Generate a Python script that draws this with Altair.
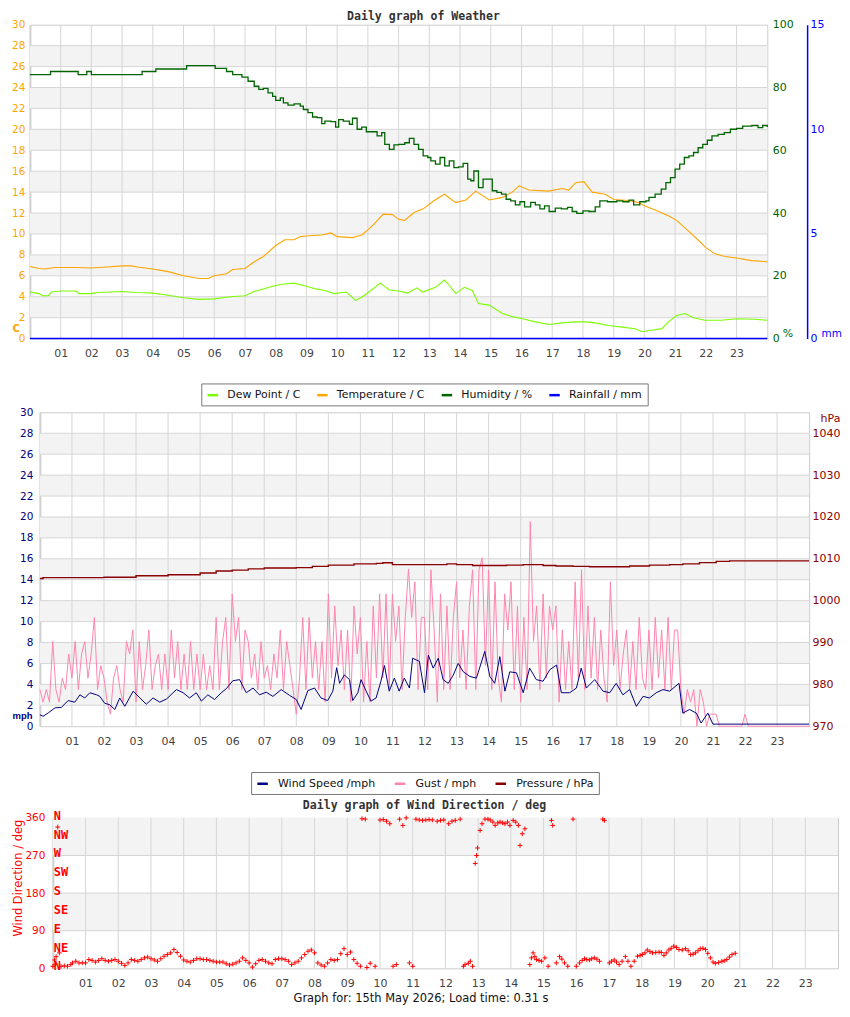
import numpy as np
import pandas as pd
import altair as alt

hours = list(range(1, 24))

# ---- Daily graph of Weather ----
temp_h = [0, 0.3, 0.5, 0.8, 1.0, 1.5, 2.0, 2.5, 3.0, 3.3, 3.5, 4.0, 4.5, 5.0, 5.5, 5.8, 6.0, 6.4, 6.6, 7.0,
          7.3, 7.6, 8.0, 8.3, 8.6, 8.8, 9.0, 9.5, 9.8, 10.0, 10.5, 10.8, 11.0, 11.2, 11.5, 11.8, 12.0, 12.2,
          12.5, 12.8, 13.16, 13.49, 13.86, 14.19, 14.51, 14.95, 15.38, 15.7, 15.92, 16.24, 16.89, 17.32,
          17.54, 17.76, 18.03, 18.3, 18.73, 19.0, 19.49, 19.81, 20.0, 20.35, 20.78, 21.05, 21.43, 21.76,
          22.0, 22.3, 22.62, 23.0, 23.49, 24.0]
temp_c = [6.9, 6.7, 6.65, 6.8, 6.8, 6.8, 6.75, 6.85, 6.95, 6.95, 6.85, 6.65, 6.4, 6.0, 5.75, 5.75, 6.0, 6.2,
          6.6, 6.7, 7.35, 7.85, 8.9, 9.45, 9.45, 9.75, 9.8, 9.9, 10.1, 9.75, 9.65, 9.9, 10.4, 10.95, 11.9,
          11.85, 11.4, 11.3, 12.05, 12.4, 13.2, 13.8, 13.0, 13.25, 14.1, 13.25, 13.5, 14.0, 14.6, 14.2, 14.1,
          14.35, 14.2, 14.9, 15.0, 14.0, 13.8, 13.3, 13.2, 13.0, 12.7, 12.3, 11.75, 11.3, 10.3, 9.4, 8.7, 8.1,
          7.85, 7.7, 7.45, 7.35]
dew_h = [0, 0.3, 0.4, 0.6, 0.7, 1.0, 1.5, 1.6, 2.0, 2.2, 3.0, 3.5, 4.0, 4.5, 5.0, 5.5, 6.0, 6.5, 7.0, 7.3,
         7.6, 7.9, 8.2, 8.6, 9.0, 9.3, 9.6, 9.9, 10.3, 10.6, 10.8, 11.1, 11.4, 11.7, 12.0, 12.3, 12.6, 12.78,
         13.2, 13.49, 13.65, 13.86, 14.14, 14.4, 14.6, 14.95, 15.38, 15.7, 16.03, 16.46, 16.89, 17.32, 17.76,
         18.08, 18.4, 18.84, 19.27, 19.7, 19.92, 20.24, 20.57, 20.78, 21.05, 21.32, 21.6, 21.97, 22.51, 23.0,
         23.59, 24.0]
dew_c = [4.45, 4.3, 4.1, 4.1, 4.45, 4.55, 4.55, 4.3, 4.3, 4.4, 4.5, 4.4, 4.35, 4.15, 3.9, 3.75, 3.8, 4.0,
         4.1, 4.5, 4.75, 5.0, 5.2, 5.3, 5.0, 4.75, 4.6, 4.3, 4.45, 3.65, 3.95, 4.6, 5.3, 4.65, 4.55, 4.35,
         4.85, 4.45, 4.9, 5.6, 5.1, 4.3, 4.9, 4.6, 3.35, 3.2, 2.4, 2.1, 1.9, 1.6, 1.35, 1.5, 1.6, 1.6, 1.5,
         1.25, 1.1, 0.95, 0.65, 0.8, 0.95, 1.6, 2.2, 2.4, 2.0, 1.75, 1.75, 1.9, 1.85, 1.75]
hum_h = [0, 0.67, 1.57, 1.85, 2.0, 3.65, 4.1, 5.1, 6.03, 6.4, 6.6, 6.9, 7.1, 7.3, 7.45, 7.6, 7.75, 7.9, 8.0,
         8.15, 8.25, 8.4, 8.6, 8.8, 8.9, 9.05, 9.2, 9.35, 9.5, 9.6, 9.8, 9.95, 10.05, 10.2, 10.4, 10.5, 10.65,
         10.8, 10.95, 11.1, 11.3, 11.45, 11.55, 11.7, 11.85, 12.0, 12.2, 12.35, 12.5, 12.65, 12.8, 12.95,
         13.05, 13.2, 13.35, 13.5, 13.65, 13.8, 13.95, 14.1, 14.25, 14.35, 14.45, 14.6, 14.75, 14.9, 15.05,
         15.2, 15.35, 15.5, 15.65, 15.8, 15.95, 16.1, 16.3, 16.45, 16.6, 16.75, 16.9, 17.1, 17.3, 17.5,
         17.65, 17.8, 18.0, 18.2, 18.4, 18.55, 18.8, 19.1, 19.3, 19.5, 19.65, 19.85, 20.05, 20.15, 20.35,
         20.55, 20.7, 20.85, 21.0, 21.15, 21.3, 21.45, 21.6, 21.75, 21.9, 22.05, 22.2, 22.4, 22.6, 22.8,
         23.0, 23.2, 23.5, 23.7, 23.85, 24.0]
hum_pct = [84.1, 85.1, 84.1, 85.1, 84.1, 85.1, 85.9, 87.0, 86.1, 85.1, 84.1, 83.3, 82.0, 80.4, 79.4, 79.7,
           78.3, 77.2, 75.9, 76.7, 75.1, 74.4, 74.8, 74.1, 73.0, 72.0, 70.6, 70.4, 68.5, 69.3, 69.1, 67.4,
           69.8, 69.3, 68.3, 70.2, 66.7, 67.4, 65.9, 65.9, 64.6, 65.6, 61.9, 60.3, 61.7, 61.9, 62.4, 63.8,
           61.9, 60.3, 58.2, 57.7, 56.6, 55.6, 57.7, 55.0, 56.6, 54.5, 54.7, 55.8, 50.8, 50.3, 53.4, 48.1,
           50.8, 50.8, 47.1, 46.6, 46.0, 44.4, 43.9, 42.6, 43.6, 42.0, 43.4, 42.6, 41.3, 42.3, 40.5, 41.6,
           41.3, 41.8, 40.5, 39.9, 40.7, 40.5, 42.0, 43.9, 43.6, 43.9, 43.6, 44.1, 42.6, 43.6, 43.9, 45.0,
           46.0, 47.6, 49.7, 51.3, 54.0, 55.6, 57.7, 58.2, 59.3, 60.8, 61.9, 63.2, 64.6, 65.1, 65.6, 66.7,
           67.0, 67.7, 67.9, 67.2, 67.9, 67.4]
rain_h = [0, 24]
rain_mm = [0.0, 0.0]

# ---- wind speed / gust / pressure ----
wind_h = [0, 0.1, 0.26, 0.47, 0.67, 0.88, 1.09, 1.25, 1.4, 1.56, 1.77, 1.87, 2.02, 2.18, 2.34, 2.49, 2.65,
          2.91, 3.12, 3.32, 3.53, 3.74, 3.95, 4.26, 4.47, 4.67, 4.88, 5.04, 5.24, 5.45, 5.66, 5.82, 6.02, 6.23,
          6.44, 6.65, 6.85, 7.06, 7.27, 7.53, 7.79, 8.0, 8.15, 8.36, 8.57, 8.77, 8.98, 9.14, 9.26, 9.35, 9.5,
          9.66, 9.76, 9.92, 10.02, 10.18, 10.33, 10.49, 10.64, 10.75, 10.9, 11.06, 11.21, 11.37, 11.53, 11.63,
          11.84, 12.0, 12.12, 12.27, 12.43, 12.58, 12.74, 12.9, 13.05, 13.21, 13.42, 13.62, 13.88, 14.04,
          14.19, 14.35, 14.51, 14.66, 14.87, 15.08, 15.28, 15.49, 15.7, 15.91, 16.12, 16.27, 16.53, 16.74,
          16.89, 17.05, 17.31, 17.57, 17.78, 17.98, 18.19, 18.4, 18.61, 18.82, 19.02, 19.23, 19.44, 19.65,
          19.94, 20.06, 20.27, 20.48, 20.63, 20.84, 21.0, 24.0]
wind_mph = [1.1, 0.95, 1.27, 1.75, 1.8, 2.45, 2.3, 3.0, 2.7, 3.2, 3.0, 2.85, 2.2, 2.05, 1.6, 2.7, 1.9, 3.35,
            2.7, 2.1, 2.7, 2.3, 2.6, 3.5, 3.2, 2.7, 3.2, 2.4, 3.0, 2.55, 3.2, 3.6, 4.35, 4.45, 3.2, 3.65, 3.0,
            3.25, 2.85, 3.5, 2.95, 2.55, 1.6, 3.4, 3.65, 2.7, 2.45, 3.35, 5.6, 4.1, 4.9, 4.45, 2.45, 3.2, 4.45,
            3.35, 2.4, 2.7, 4.3, 5.8, 3.35, 4.6, 3.35, 4.6, 3.65, 6.5, 6.2, 3.2, 6.8, 5.55, 6.5, 4.45, 4.1, 4.9,
            6.0, 5.2, 4.75, 4.6, 7.15, 4.75, 4.1, 6.65, 3.35, 5.2, 5.1, 3.2, 5.55, 4.45, 4.3, 5.4, 5.85, 3.2,
            3.2, 3.65, 5.55, 3.65, 4.45, 3.35, 3.2, 4.1, 3.0, 3.5, 1.9, 2.85, 2.7, 3.2, 3.5, 3.35, 4.1, 1.25,
            1.6, 1.25, 0.3, 1.25, 0.2, 0.2]
# gust readings, ten per hour (00 .. 23)
gust_rows = [
    [3.5, 2.3, 3.5, 2.3, 8.1, 3.5, 2.3, 4.6, 3.5, 6.9],
    [4.6, 8.1, 3.5, 6.9, 8.1, 4.6, 6.9, 10.4, 3.5, 5.8],
    [4.6, 2.3, 1.15, 4.6, 5.8, 3.5, 2.3, 8.1, 6.9, 9.2],
    [2.3, 8.1, 3.5, 5.8, 9.2, 3.5, 5.8, 6.9, 3.5, 6.9],
    [3.5, 9.2, 4.6, 8.1, 3.5, 6.9, 3.5, 8.1, 3.5, 6.9],
    [3.5, 6.9, 3.5, 5.8, 3.5, 10.4, 3.5, 8.1, 10.4, 3.5],
    [12.65, 8.1, 10.4, 3.5, 9.2, 8.1, 4.6, 6.9, 3.5, 8.1],
    [4.6, 5.8, 3.5, 6.9, 4.6, 9.2, 3.5, 8.1, 5.8, 3.5],
    [1.15, 4.6, 10.4, 3.5, 10.4, 4.6, 8.1, 3.5, 8.1, 2.3],
    [12.65, 4.6, 11.5, 5.8, 9.2, 3.5, 9.2, 2.3, 11.5, 6.9],
    [10.4, 2.3, 8.1, 2.3, 11.5, 4.6, 12.65, 4.6, 12.65, 3.5],
    [12.65, 8.1, 11.5, 3.5, 10.4, 15.0, 10.4, 13.8, 3.5, 10.4],
    [10.4, 3.5, 14.95, 9.2, 2.3, 12.65, 3.5, 11.5, 3.5, 10.4],
    [13.8, 4.6, 9.2, 3.5, 11.5, 14.95, 3.5, 14.95, 16.1, 5.8],
    [14.95, 3.5, 13.8, 4.6, 2.3, 12.65, 9.2, 13.8, 3.5, 11.5],
    [2.3, 10.4, 3.5, 19.55, 8.1, 11.5, 3.5, 12.65, 4.6, 11.5],
    [9.2, 11.5, 2.3, 9.2, 3.5, 8.1, 3.5, 13.8, 4.6, 14.95],
    [3.5, 11.5, 4.6, 10.4, 3.5, 9.2, 4.6, 2.3, 13.8, 5.8],
    [9.2, 3.5, 6.9, 9.2, 3.5, 8.1, 3.5, 10.4, 4.6, 3.5],
    [9.2, 3.5, 10.4, 4.6, 9.2, 3.5, 10.4, 3.5, 9.2, 9.2],
    [3.5, 1.15, 3.5, 2.3, 3.5, 0, 3.5, 2.3, 0, 1.15],
    [1.15, 1.15, 0, 0, 0, 0, 0, 0, 0, 0],
    [1.15, 0, 0, 0, 0, 0, 0, 0, 0, 0],
    [0, 0, 0, 0, 0, 0, 0, 0, 0, 0],
]
pres_h = [0, 0.1, 1, 2, 3, 4, 5, 5.5, 6, 6.5, 7, 8, 8.5, 9, 9.8, 10.5, 10.7, 11, 11.5, 12.0, 12.7, 13, 13.5,
          14.04, 14.56, 15.08, 15.7, 16.1, 16.63, 17.15, 17.78, 18.4, 19.02, 19.65, 20.06, 20.58, 21.1, 21.52,
          22.35, 23.38, 24]
pres_hpa = [1005.3, 1005.5, 1005.5, 1005.6, 1005.95, 1006.2, 1006.6, 1007.1, 1007.3, 1007.6, 1007.8, 1007.9,
            1008.2, 1008.5, 1008.8, 1008.9, 1009.05, 1008.6, 1008.6, 1008.6, 1008.8, 1008.6, 1008.4, 1008.4,
            1008.5, 1008.6, 1008.4, 1008.3, 1008.2, 1008.1, 1008.1, 1008.3, 1008.5, 1008.6, 1008.8, 1009.1,
            1009.4, 1009.5, 1009.5, 1009.5, 1009.5]

# ---- wind direction (hour, deg) ----
wind_dir = [
    (0.0, 5), (0.05, 20), (0.08, 10), (0.1, 28), (0.15, 338), (0.2, 37), (0.25, 5), (0.35, 6), (0.45, 5),
    (0.55, 9), (0.6, 13), (0.7, 17), (0.8, 13), (0.9, 13), (1.0, 13), (1.1, 21), (1.2, 19), (1.3, 15),
    (1.4, 19), (1.5, 23), (1.6, 19), (1.7, 17), (1.8, 19), (1.9, 21), (2.0, 17), (2.1, 12), (2.2, 7),
    (2.3, 13), (2.4, 21), (2.5, 19), (2.6, 17), (2.7, 21), (2.8, 25), (2.9, 27), (3.0, 23), (3.1, 20),
    (3.2, 17), (3.3, 23), (3.4, 29), (3.5, 33), (3.6, 37), (3.7, 45), (3.8, 38), (3.9, 29), (4.0, 20),
    (4.1, 17), (4.2, 15), (4.3, 19), (4.4, 23), (4.5, 23), (4.6, 21), (4.7, 21), (4.8, 19), (4.9, 17),
    (5.0, 15), (5.1, 15), (5.2, 15), (5.3, 11), (5.4, 8), (5.5, 10), (5.6, 13), (5.7, 17), (5.8, 25),
    (5.9, 19), (6.0, 13), (6.1, 3), (6.2, 11), (6.3, 19), (6.4, 21), (6.5, 17), (6.6, 13), (6.7, 11),
    (6.8, 21), (6.9, 23), (7.0, 23), (7.1, 21), (7.2, 17), (7.3, 9), (7.4, 13), (7.5, 17), (7.6, 25),
    (7.7, 33), (7.8, 41), (7.9, 44), (8.0, 37), (8.1, 13), (8.2, 8), (8.3, 5), (8.4, 13), (8.5, 21),
    (8.6, 19), (8.7, 21), (8.8, 35), (8.9, 47), (9.0, 33), (9.1, 39), (9.2, 21), (9.3, 12), (9.4, 5),
    (9.45, 358), (9.55, 357), (9.6, 2), (9.7, 12), (9.85, 5), (10.0, 355), (10.1, 356), (10.2, 352),
    (10.3, 346), (10.4, 5), (10.5, 9), (10.6, 357), (10.7, 342), (10.8, 360), (10.9, 13), (11.0, 5),
    (11.1, 357), (11.2, 355), (11.3, 354), (11.4, 355), (11.5, 356), (11.6, 355), (11.75, 352),
    (11.85, 354), (11.95, 355), (12.1, 346), (12.2, 352), (12.3, 354), (12.45, 357), (12.55, 5), (12.6, 9),
    (12.7, 12), (12.76, 17), (12.83, 5), (12.91, 251), (12.95, 270), (12.98, 288), (13.06, 330),
    (13.12, 346), (13.21, 357), (13.3, 357), (13.37, 355), (13.45, 350), (13.52, 342), (13.6, 348),
    (13.67, 350), (13.75, 348), (13.82, 346), (13.9, 350), (13.97, 342), (14.07, 354), (14.15, 350),
    (14.23, 342), (14.28, 294), (14.35, 322), (14.43, 334), (14.58, 9), (14.63, 25), (14.68, 37),
    (14.73, 28), (14.78, 21), (14.86, 19), (14.94, 17), (15.04, 25), (15.14, 5), (15.24, 354), (15.28, 342),
    (15.39, 13), (15.49, 28), (15.56, 22), (15.64, 13), (15.74, 5), (15.9, 357), (16.0, 5), (16.1, 13),
    (16.18, 19), (16.25, 23), (16.32, 21), (16.4, 20), (16.47, 23), (16.55, 25), (16.63, 22), (16.71, 17),
    (16.81, 357), (16.86, 354), (17.01, 13), (17.08, 17), (17.16, 20), (17.23, 15), (17.31, 9), (17.4, 17),
    (17.5, 28), (17.58, 17), (17.67, 5), (17.77, 17), (17.87, 29), (17.95, 31), (18.02, 33), (18.1, 37),
    (18.17, 44), (18.25, 40), (18.33, 37), (18.43, 38), (18.53, 39), (18.6, 38), (18.68, 31), (18.75, 37),
    (18.83, 44), (18.9, 48), (18.98, 53), (19.06, 50), (19.14, 45), (19.24, 44), (19.34, 47), (19.42, 42),
    (19.49, 33), (19.57, 34), (19.64, 37), (19.72, 42), (19.79, 47), (19.87, 48), (19.95, 45), (20.02, 36),
    (20.1, 25), (20.18, 15), (20.25, 12), (20.35, 14), (20.45, 17), (20.52, 18), (20.6, 21), (20.68, 27),
    (20.76, 33), (20.86, 36),
]
compass_deg = [0, 45, 90, 135, 180, 225, 270, 315, 360]
compass_lbl = ['N', 'NE', 'E', 'SE', 'S', 'SW', 'W', 'NW', 'N']

series_top = ['Dew Point / C', 'Temperature / C', 'Humidity / %', 'Rainfall / mm']
colors_top = ['#7cfc00', '#ffa500', '#006400', '#0000ff']
series_mid = ['Wind Speed /mph', 'Gust / mph', 'Pressure / hPa']
colors_mid = ['#000080', '#ff85ad', '#8b0000']

GRID = '#d6d6d6'
BAND = '#f3f3f3'
FONT = 'DejaVu Sans'
xs = alt.Scale(domain=[0, 24], nice=False, zero=False)


def hour_axis(**kw):
    return alt.Axis(values=hours, format='02d', grid=False, ticks=False, domain=False, labelPadding=9,
                    labelColor='#444', labelFont=FONT, labelFontSize=11, **kw)


def yscale(lo, hi):
    return alt.Scale(domain=[lo, hi], nice=False, zero=False)


def backdrop(xenc, ymax, band_lo, band_w, grid_vals):
    ys = yscale(0, ymax)
    bands = pd.DataFrame({'h': 0, 'h2': 24, 'lo': band_lo})
    bands['hi'] = bands['lo'] + band_w
    band = alt.Chart(bands).mark_rect(color=BAND).encode(
        x=xenc, x2='h2:Q', y=alt.Y('lo:Q', scale=ys, axis=None), y2='hi:Q')
    hgrid = alt.Chart(pd.DataFrame({'g': grid_vals})).mark_rule(color=GRID).encode(
        y=alt.Y('g:Q', scale=ys, axis=None))
    vgrid = alt.Chart(pd.DataFrame({'h': hours})).mark_rule(color=GRID).encode(x=xenc)
    return [band, hgrid, vgrid]


def legend(x, y, gap, lab_off):
    return alt.Legend(title=None, orient='none', legendX=x, legendY=y, direction='horizontal',
                      symbolType='stroke', symbolSize=110, symbolStrokeWidth=2.5, labelFont=FONT,
                      labelFontSize=11, labelColor='#111', labelOffset=lab_off, columnPadding=gap,
                      padding=5, strokeColor='#777', fillColor='white', cornerRadius=0)


def spacer():
    return alt.Chart(pd.DataFrame({'z': [0]})).mark_point(size=1, opacity=0, strokeWidth=0).encode(
        x=alt.value(0), y=alt.value(0)).properties(width=1, height=1,
                                                   view=alt.ViewBackground(stroke='transparent'))


# ---------------- top panel ----------------
x_top = alt.X('h:Q', scale=xs, axis=hour_axis(title=None))
c_top = alt.Color('s:N', scale=alt.Scale(domain=series_top, range=colors_top),
                  legend=legend(172, 360, 11, 8))

td = pd.concat([pd.DataFrame({'h': dew_h, 'v': dew_c, 's': series_top[0]}),
                pd.DataFrame({'h': temp_h, 'v': temp_c, 's': series_top[1]})])
temp_line = alt.Chart(td).mark_line(strokeWidth=1.1).encode(
    x=x_top, color=c_top,
    y=alt.Y('v:Q', scale=yscale(0, 30), axis=alt.Axis(
        orient='left', values=list(range(0, 31, 2)), grid=False, ticks=False, domainColor='#d0d0d0',
        domainWidth=2, labelColor='#ffa500', labelFont=FONT, labelFontSize=10.5, labelPadding=5,
        title='C', titleAngle=0, titleX=-18, titleY=304.5, titleAlign='left', titleBaseline='middle',
        titleColor='#ffa500', titleFont=FONT, titleFontSize=10, titleFontWeight='bold')))
hum_line = alt.Chart(pd.DataFrame({'h': hum_h, 'v': hum_pct, 's': series_top[2]})).mark_line(
    strokeWidth=1.3, interpolate='step-after').encode(
    x=x_top, color=c_top,
    y=alt.Y('v:Q', scale=yscale(0, 100), axis=alt.Axis(
        orient='right', values=[0, 20, 40, 60, 80, 100], grid=False, ticks=False, domain=False,
        labelColor='#006400', labelFont=FONT, labelFontSize=11, labelPadding=5,
        title='%', titleAngle=0, titleX=15, titleY=310, titleAlign='left', titleBaseline='middle',
        titleColor='#006400', titleFont=FONT, titleFontSize=11, titleFontWeight='normal')))
rain_line = alt.Chart(pd.DataFrame({'h': rain_h, 'v': rain_mm, 's': series_top[3]})).mark_line(
    strokeWidth=1.5).encode(
    x=x_top, color=c_top,
    y=alt.Y('v:Q', scale=yscale(0, 15), axis=alt.Axis(
        orient='right', offset=40, values=[0, 5, 10, 15], grid=False, ticks=False, domain=True,
        domainColor='#0000ff', domainWidth=1.5, labelColor='#0000ff', labelFont=FONT, labelFontSize=11,
        labelPadding=3, title='mm', titleAngle=0, titleX=14, titleY=310, titleAlign='left',
        titleBaseline='middle', titleColor='#0000ff', titleFont=FONT, titleFontSize=10.5,
        titleFontWeight='normal')))

top = alt.layer(*backdrop(x_top, 30, [2, 6, 10, 14, 18, 22, 26], 2, list(range(2, 30, 2))),
                temp_line, hum_line, rain_line).resolve_scale(y='independent').properties(
    width=740, height=315,
    title=alt.TitleParams('Daily graph of Weather', font='DejaVu Sans Mono', fontSize=11.6,
                          fontWeight='bold', color='#333', anchor='middle', frame='group', dx=25,
                          offset=-4))

# ---------------- middle panel ----------------
x_mid = alt.X('h:Q', scale=xs, axis=hour_axis(title=None))
c_mid = alt.Color('s:N', scale=alt.Scale(domain=series_mid, range=colors_mid),
                  legend=legend(212, 361, 14, 9))

gust_h, gust_mph = [], []
for hr, row in enumerate(gust_rows):
    for k, g in enumerate(row):
        gust_h.append(hr + k / 10)
        gust_mph.append(g)
gust_h.append(24)
gust_mph.append(0)

gust_line = alt.Chart(pd.DataFrame({'h': gust_h, 'v': gust_mph, 's': series_mid[1]})).mark_line(
    strokeWidth=1).encode(x=x_mid, color=c_mid, y=alt.Y('v:Q', scale=yscale(0, 30), axis=None))
wind_line = alt.Chart(pd.DataFrame({'h': wind_h, 'v': wind_mph, 's': series_mid[0]})).mark_line(
    strokeWidth=1).encode(
    x=x_mid, color=c_mid,
    y=alt.Y('v:Q', scale=yscale(0, 30), axis=alt.Axis(
        orient='left', values=list(range(0, 31, 2)), grid=False, ticks=False, domainColor='#d0d0d0',
        domainWidth=2, labelColor='#000080', labelFont=FONT, labelFontSize=10.5, labelPadding=7,
        title='mph', titleAngle=0, titleX=-28, titleY=304.5, titleAlign='left', titleBaseline='middle',
        titleColor='#000080', titleFont='Liberation Sans', titleFontSize=9.5, titleFontWeight='bold')))
pres_line = alt.Chart(pd.DataFrame({'h': pres_h, 'v': pres_hpa, 's': series_mid[2]})).mark_line(
    strokeWidth=1.4, interpolate='step-after').encode(
    x=x_mid, color=c_mid,
    y=alt.Y('v:Q', scale=yscale(970, 1045), axis=alt.Axis(
        orient='right', values=list(range(970, 1041, 10)), format='d', grid=False, ticks=False,
        domain=False, labelColor='#8b0000', labelFont=FONT, labelFontSize=11, labelPadding=3,
        title='hPa', titleAngle=0, titleX=11, titleY=6, titleAlign='left', titleBaseline='middle',
        titleColor='#8b0000', titleFont=FONT, titleFontSize=11, titleFontWeight='normal')))

mid = alt.layer(*backdrop(x_mid, 30, [2, 6, 10, 14, 18, 22, 26], 2, list(range(2, 30, 2))),
                gust_line, wind_line, pres_line).resolve_scale(y='independent').properties(
    width=772, height=315)

# ---------------- bottom panel ----------------
x_bot = alt.X('h:Q', scale=xs, axis=hour_axis(
    title='Graph for: 15th May 2026; Load time: 0.31 s', titleX=369, titleAlign='center', titlePadding=4,
    titleFont=FONT, titleFontSize=11.5, titleFontWeight='normal', titleColor='#111'))
dir_df = pd.DataFrame(wind_dir, columns=['h', 'deg'])
dir_pts = alt.Chart(dir_df).mark_point(shape='M-1,0L1,0M0,-1L0,1', filled=False, size=22, strokeWidth=1,
                                       color='#ff0000', opacity=1).encode(
    x=x_bot,
    y=alt.Y('deg:Q', scale=yscale(0, 360), axis=alt.Axis(
        orient='left', values=[0, 90, 180, 270, 360], grid=False, ticks=False, domainColor='#d0d0d0',
        domainWidth=2, labelColor='#ff0000', labelFont=FONT, labelFontSize=10.5, labelPadding=8,
        title='Wind Direction / deg', titleColor='#ff0000', titleFont=FONT, titleFontSize=11.5,
        titleFontWeight='normal', titleAngle=270, titleX=-34.5, titleY=60, titleAlign='center',
        titleBaseline='middle')))
compass = alt.Chart(pd.DataFrame({'h': 0, 'deg': compass_deg, 'lbl': compass_lbl})).mark_text(
    align='left', baseline='middle', dx=1, dy=-2, font='DejaVu Sans Mono', fontWeight='bold', fontSize=12,
    color='#ff0000').encode(x=x_bot, y=alt.Y('deg:Q', scale=yscale(0, 360), axis=None), text='lbl:N')

bot = alt.layer(*backdrop(x_bot, 360, [90, 270], 90, [90, 180, 270]), dir_pts, compass).resolve_scale(
    y='independent').properties(
    width=788, height=151,
    title=alt.TitleParams('Daily graph of Wind Direction / deg', font='DejaVu Sans Mono', fontSize=11.6,
                          fontWeight='bold', color='#333', anchor='middle', frame='group', dx=-21,
                          offset=-2))

ind = dict(color='independent', x='independent', y='independent')
row1 = alt.hconcat(spacer(), top, spacing=0).resolve_scale(**ind)
row2 = alt.hconcat(spacer(), mid, spacing=0).resolve_scale(**ind)
row3 = alt.hconcat(spacer(), bot, spacing=0).resolve_scale(**ind)

upper = alt.vconcat(row1, row2, spacing=0).resolve_scale(**ind)
chart = alt.vconcat(upper, row3, spacing=4).resolve_scale(**ind).properties(
    padding=0, background='white').configure_view(stroke='#cccccc')

chart.save("out.html", embed_options={"renderer": "svg", "actions": False})
